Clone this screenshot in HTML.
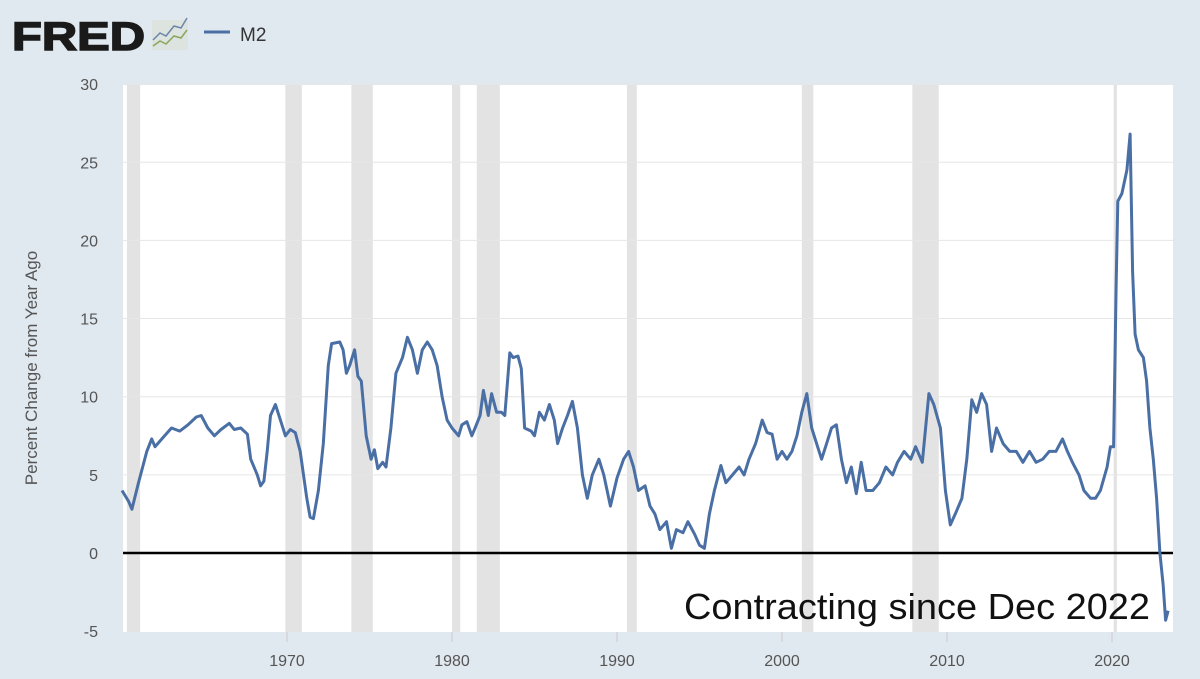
<!DOCTYPE html>
<html><head><meta charset="utf-8"><style>
html,body{margin:0;padding:0;background:#e1e9f0;width:1200px;height:679px;overflow:hidden;font-family:"Liberation Sans",sans-serif;}
</style></head><body>
<svg width="1200" height="679" xmlns="http://www.w3.org/2000/svg">
<rect x="0" y="0" width="1200" height="679" fill="#e1e9f0"/>
<text x="12" y="50" font-size="40" font-weight="bold" fill="#1a1a1a" stroke="#1a1a1a" stroke-width="1.5" textLength="133" lengthAdjust="spacingAndGlyphs">FRED</text>
<g>
<rect x="152" y="20" width="36" height="30" fill="#dde3df"/>
<polyline points="153,40 160,33 166,36 174,26 181,28 187,18" fill="none" stroke="#6b86aa" stroke-width="1.5"/>
<polyline points="153,46 160,41 166,44 174,36 181,38 187,30" fill="none" stroke="#8aa65a" stroke-width="1.5"/>
</g>
<line x1="204" y1="32" x2="230" y2="32" stroke="#4a6fa5" stroke-width="3"/>
<text x="240" y="41" font-size="19" fill="#333">M2</text>
<rect x="123" y="85" width="1050" height="547" fill="#ffffff"/>
<g id="rec"></g>
<g id="grid"></g>
<g id="yt"></g>
<g id="xt"></g>
<line x1="123" y1="553" x2="1173" y2="553" stroke="#000" stroke-width="2.5"/>
<path id="line" fill="none" stroke="#4a6fa5" stroke-width="3" stroke-linejoin="round"/>
<text x="37" y="368" font-size="17" fill="#555" text-anchor="middle" transform="rotate(-90 37 368)">Percent Change from Year Ago</text>
<text x="684" y="619" font-size="36" fill="#111" textLength="466" lengthAdjust="spacingAndGlyphs">Contracting since Dec 2022</text>
</svg>
<script>
const recStart=[1960.3,1969.9,1973.9,1980.0,1981.5,1990.6,2001.2,2007.9,2020.1];
const recEnd=[1961.1,1970.9,1975.2,1980.5,1982.9,1991.2,2001.9,2009.5,2020.3];
const yTicks=[-5,0,5,10,15,20,25,30];
const xTicks=[1970,1980,1990,2000,2010,2020];
const years=[1960.0,1960.4,1960.6,1961.0,1961.5,1961.8,1962.0,1962.5,1963.0,1963.5,1964.0,1964.5,1964.8,1965.2,1965.6,1966.0,1966.5,1966.8,1967.2,1967.6,1967.8,1968.2,1968.4,1968.6,1968.8,1969.0,1969.3,1969.6,1969.9,1970.2,1970.5,1970.8,1971.0,1971.2,1971.4,1971.6,1971.9,1972.2,1972.5,1972.7,1973.2,1973.4,1973.6,1973.8,1974.1,1974.3,1974.5,1974.8,1975.1,1975.3,1975.5,1975.8,1976.0,1976.3,1976.6,1977.0,1977.3,1977.6,1977.9,1978.2,1978.5,1978.8,1979.1,1979.4,1979.7,1980.0,1980.4,1980.6,1980.9,1981.2,1981.4,1981.7,1981.9,1982.2,1982.4,1982.7,1983.0,1983.2,1983.5,1983.7,1984.0,1984.2,1984.4,1984.8,1985.0,1985.3,1985.6,1985.9,1986.2,1986.4,1986.7,1987.0,1987.3,1987.6,1987.9,1988.2,1988.5,1988.9,1989.2,1989.6,1990.0,1990.4,1990.7,1991.0,1991.3,1991.7,1992.0,1992.3,1992.6,1993.0,1993.3,1993.6,1994.0,1994.3,1994.7,1995.0,1995.3,1995.6,1995.9,1996.3,1996.6,1997.0,1997.4,1997.7,1998.0,1998.4,1998.8,1999.1,1999.4,1999.7,2000.0,2000.3,2000.6,2000.9,2001.2,2001.5,2001.8,2002.1,2002.4,2002.7,2003.0,2003.3,2003.6,2003.9,2004.2,2004.5,2004.8,2005.1,2005.5,2005.9,2006.3,2006.7,2007.0,2007.4,2007.8,2008.1,2008.5,2008.9,2009.2,2009.6,2009.9,2010.2,2010.5,2010.9,2011.2,2011.5,2011.8,2012.1,2012.4,2012.7,2013.0,2013.4,2013.8,2014.2,2014.6,2015.0,2015.4,2015.8,2016.2,2016.6,2017.0,2017.3,2017.6,2018.0,2018.3,2018.7,2019.0,2019.3,2019.7,2019.9,2020.1,2020.25,2020.35,2020.6,2020.9,2021.1,2021.25,2021.4,2021.6,2021.9,2022.1,2022.3,2022.5,2022.7,2022.9,2023.1,2023.25,2023.4];
const values=[4.0,3.3,2.8,4.5,6.5,7.3,6.8,7.4,8.0,7.8,8.2,8.7,8.8,8.0,7.5,7.9,8.3,7.9,8.0,7.6,6.0,5.0,4.3,4.6,6.5,8.8,9.5,8.5,7.5,7.9,7.7,6.5,5.0,3.5,2.3,2.2,4.0,7.0,12.0,13.4,13.5,13.0,11.5,12.0,13.0,11.3,11.0,7.5,6.0,6.6,5.4,5.8,5.5,8.0,11.5,12.5,13.8,13.0,11.5,13.0,13.5,13.0,12.0,10.0,8.5,8.0,7.5,8.2,8.4,7.5,8.0,8.8,10.4,8.8,10.2,9.0,9.0,8.8,12.8,12.5,12.6,11.8,8.0,7.8,7.5,9.0,8.5,9.5,8.5,7.0,8.0,8.8,9.7,8.0,5.0,3.5,5.0,6.0,5.0,3.0,4.8,6.0,6.5,5.5,4.0,4.3,3.0,2.5,1.5,2.0,0.3,1.5,1.3,2.0,1.2,0.5,0.3,2.5,4.0,5.6,4.5,5.0,5.5,5.0,6.0,7.0,8.5,7.7,7.6,6.0,6.5,6.0,6.5,7.5,9.0,10.2,8.0,7.0,6.0,7.0,8.0,8.2,6.0,4.5,5.5,3.8,5.8,4.0,4.0,4.5,5.5,5.0,5.8,6.5,6.0,6.8,5.8,10.2,9.5,8.0,4.0,1.8,2.5,3.5,6.0,9.8,9.0,10.2,9.5,6.5,8.0,7.0,6.5,6.5,5.8,6.5,5.8,6.0,6.5,6.5,7.3,6.5,5.8,5.0,4.0,3.5,3.5,4.0,5.5,6.8,6.8,17,22.5,23,24.5,26.8,18,14,13.0,12.5,11.0,8.0,6.0,3.5,0,-2.0,-4.3,-3.7];
const X0=122,Y0=553,PX=16.5,PY=15.63;
function sx(t){return X0+(t-1960)*PX;}
function sy(v){return Y0-v*PY;}
const NS="http://www.w3.org/2000/svg";
const rec=document.getElementById('rec');
recStart.forEach((s,i)=>{const r=document.createElementNS(NS,'rect');
r.setAttribute('x',sx(s));r.setAttribute('y',85);r.setAttribute('width',Math.max(sx(recEnd[i])-sx(s),3));r.setAttribute('height',547);r.setAttribute('fill','#e3e3e3');


rec.appendChild(r);});
const grid=document.getElementById('grid'),yt=document.getElementById('yt'),xt=document.getElementById('xt');
yTicks.forEach(v=>{if(v!==0&&v!==-5){const l=document.createElementNS(NS,'line');
l.setAttribute('x1',123);l.setAttribute('x2',1173);l.setAttribute('y1',sy(v));l.setAttribute('y2',sy(v));l.setAttribute('stroke','#e6e6e6');l.setAttribute('stroke-width','1');


grid.appendChild(l);}
const t=document.createElementNS(NS,'text');t.setAttribute('x',98);t.setAttribute('y',sy(v)+6);t.setAttribute('text-anchor','end');t.setAttribute('font-size','16');t.setAttribute('fill','#555');t.textContent=v;


yt.appendChild(t);});
xTicks.forEach(y=>{const t=document.createElementNS(NS,'text');t.setAttribute('x',sx(y));t.setAttribute('y',666);t.setAttribute('text-anchor','middle');t.setAttribute('font-size','16');t.setAttribute('fill','#555');t.textContent=y;


xt.appendChild(t);
const k=document.createElementNS(NS,'line');k.setAttribute('x1',sx(y));k.setAttribute('x2',sx(y));k.setAttribute('y1',632);k.setAttribute('y2',642);k.setAttribute('stroke','#ccc');


xt.appendChild(k);});
let d='';years.forEach((t,i)=>{d+=(i?'L':'M')+sx(t).toFixed(1)+','+sy(values[i]).toFixed(1);});
document.getElementById('line').setAttribute('d',d);
</script>
</body></html>
